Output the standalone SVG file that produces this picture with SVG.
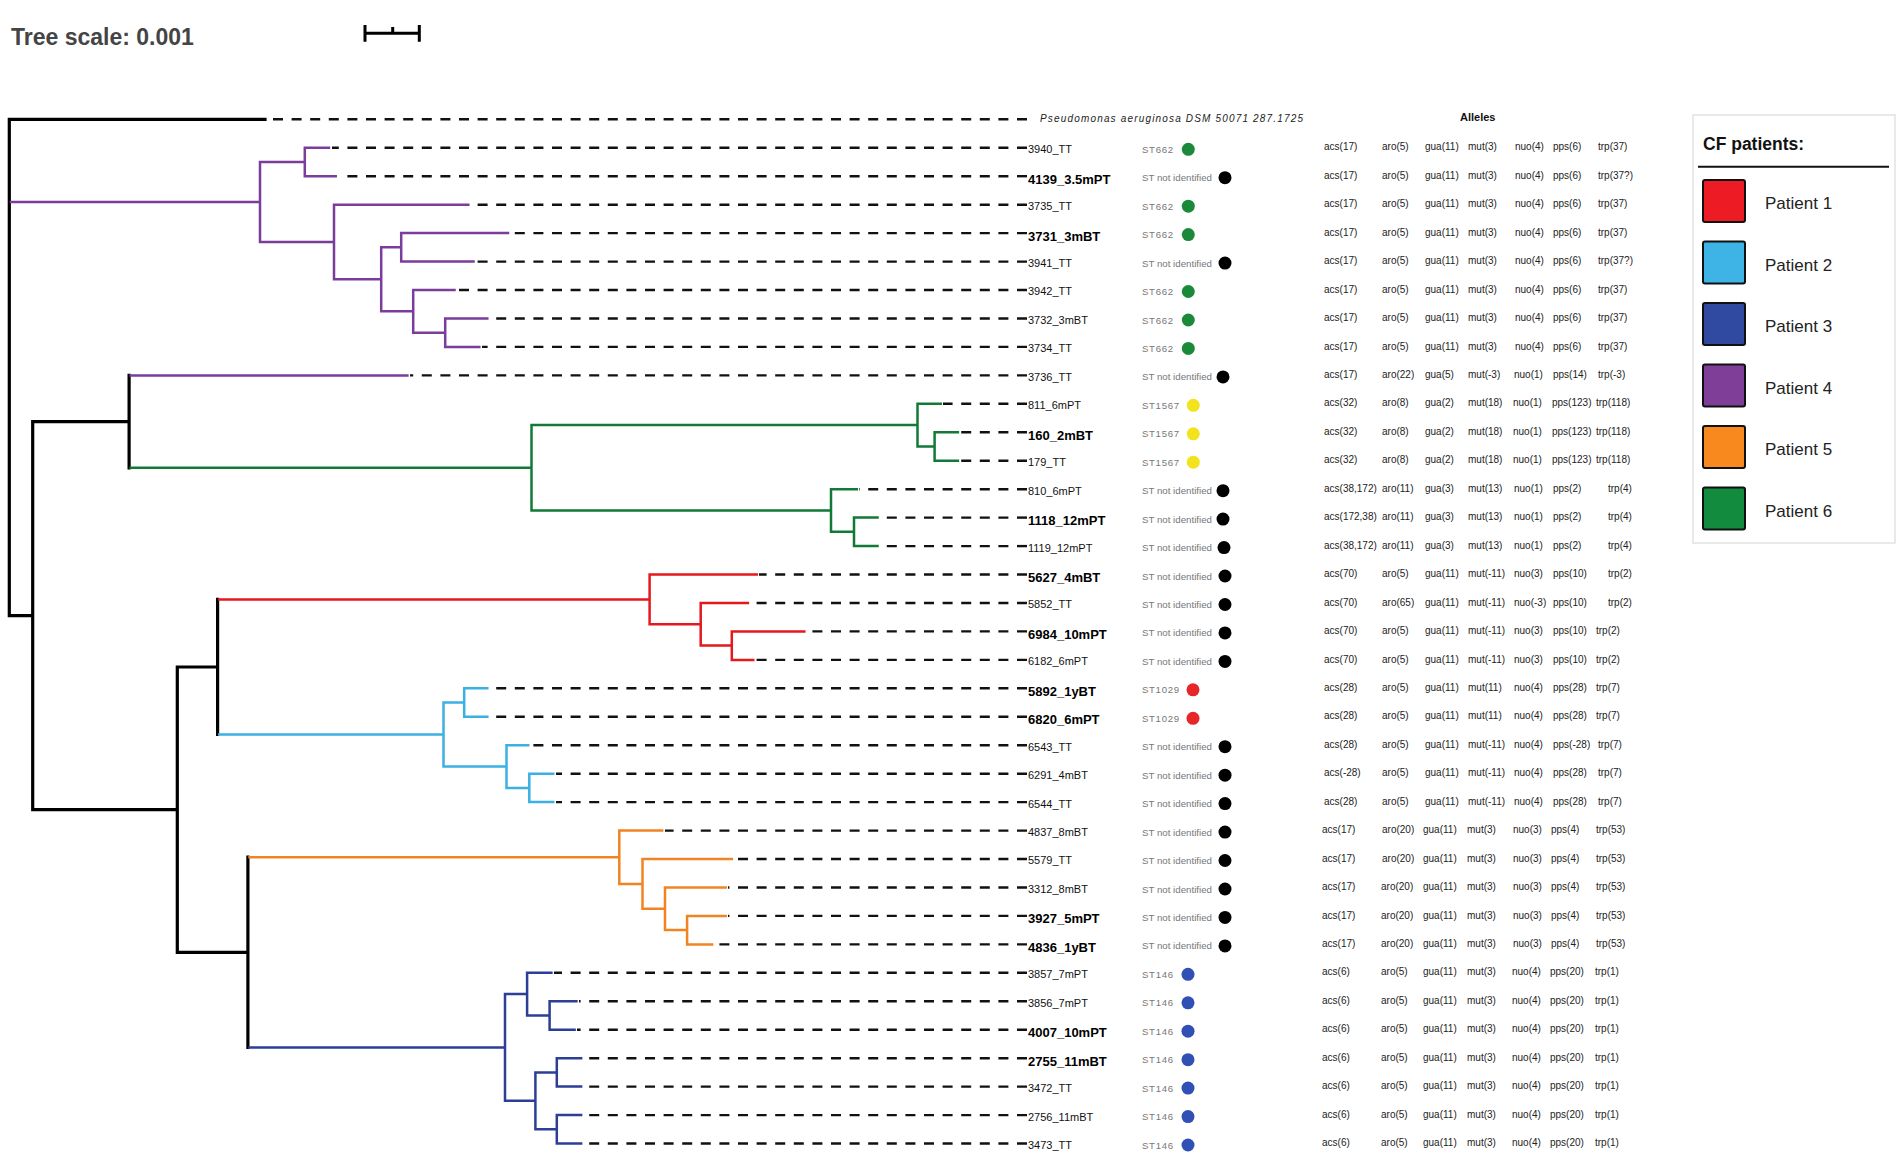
<svg xmlns="http://www.w3.org/2000/svg" width="1900" height="1174" viewBox="0 0 1900 1174">
<style>
.br{fill:none;stroke-width:2.5;stroke-linecap:square}
.k{stroke:#000;stroke-width:3.2}
.p4{stroke:#7a3d9c}
.g6{stroke:#127a37}
.r1{stroke:#e3191e}
.b2{stroke:#3bb0e3}
.b3{stroke:#2c3e96}
.o5{stroke:#f28322}
.dash{fill:none;stroke:#111;stroke-width:2.4;stroke-dasharray:10 8.6}
text{font-family:"Liberation Sans",Arial,sans-serif}
.lab{font-size:11px;fill:#111}
.labb{font-size:13px;font-weight:bold;fill:#000}
.st{font-size:9.6px;fill:#777}
.al{font-size:10px;fill:#222}
.dg{fill:#1a8a3a}.dk{fill:#000}.dy{fill:#f3e31c}.dr{fill:#e8252a}.db{fill:#3050b5}
.sw{stroke:#111;stroke-width:2}
.leg{font-size:17px;fill:#222}
</style>
<defs>
<text id="stn" class="st" x="1142" y="5" textLength="70" lengthAdjust="spacingAndGlyphs">ST not identified</text>
<text id="st662" class="st" x="1142" y="5" textLength="31" lengthAdjust="spacing">ST662</text>
<text id="st1567" class="st" x="1142" y="5" textLength="37" lengthAdjust="spacing">ST1567</text>
<text id="st1029" class="st" x="1142" y="5" textLength="37" lengthAdjust="spacing">ST1029</text>
<text id="st146" class="st" x="1142" y="5" textLength="31" lengthAdjust="spacing">ST146</text>
</defs>
<rect x="0" y="0" width="1900" height="1174" fill="#fff"/>

<g id="title">
<text x="11" y="45" font-size="23" font-weight="bold" fill="#444">Tree scale: 0.001</text>
<path d="M365,33.3 H419.3 M365,25 V41.7 M419.3,25 V41.7 M392.7,27 V33" fill="none" stroke="#000" stroke-width="3"/>
</g>

<g id="connectors">
<g id="dashes">
<path class="dash" d="M1027,119.3 H268"/>
<path class="dash" d="M1027,147.8 H332"/>
<path class="dash" d="M1027,176.2 H339"/>
<path class="dash" d="M1027,204.7 H471"/>
<path class="dash" d="M1027,233.1 H511"/>
<path class="dash" d="M1027,261.6 H476"/>
<path class="dash" d="M1027,290 H457"/>
<path class="dash" d="M1027,318.5 H490"/>
<path class="dash" d="M1027,346.9 H482"/>
<path class="dash" d="M1027,375.4 H410"/>
<path class="dash" d="M1027,403.8 H943"/>
<path class="dash" d="M1027,432.3 H960"/>
<path class="dash" d="M1027,460.7 H960"/>
<path class="dash" d="M1027,489.2 H859"/>
<path class="dash" d="M1027,517.6 H880"/>
<path class="dash" d="M1027,546.1 H880"/>
<path class="dash" d="M1027,574.5 H759"/>
<path class="dash" d="M1027,603 H750"/>
<path class="dash" d="M1027,631.4 H807"/>
<path class="dash" d="M1027,659.9 H756"/>
<path class="dash" d="M1027,688.3 H490"/>
<path class="dash" d="M1027,716.8 H490"/>
<path class="dash" d="M1027,745.2 H531"/>
<path class="dash" d="M1027,773.7 H556"/>
<path class="dash" d="M1027,802.1 H556"/>
<path class="dash" d="M1027,830.6 H665"/>
<path class="dash" d="M1027,859 H734"/>
<path class="dash" d="M1027,887.5 H728"/>
<path class="dash" d="M1027,915.9 H728"/>
<path class="dash" d="M1027,944.4 H715"/>
<path class="dash" d="M1027,972.8 H554"/>
<path class="dash" d="M1027,1001.3 H579"/>
<path class="dash" d="M1027,1029.7 H577"/>
<path class="dash" d="M1027,1058.2 H584"/>
<path class="dash" d="M1027,1086.6 H584"/>
<path class="dash" d="M1027,1115.1 H584"/>
<path class="dash" d="M1027,1143.5 H584"/>
</g>
<g id="branches-black">
<path class="br k" d="M9.3,119.3 V615.6 M9.3,119.3 H265 M9.3,615.6 H32.7 M32.7,421.6 V809.7 M32.7,421.6 H129.1 M129.1,375.4 V467.8 M32.7,809.7 H177.3 M177.3,667 V952.4 M177.3,667 H217.6 M217.6,599.4 V734.5 M177.3,952.4 H247.9 M247.9,857.2 V1047.5"/>
</g>
<g id="branches-patient4">
<path class="br p4" d="M10.9,202 H260 M260,162 V242 M260,162 H304.8 M304.8,147.8 V176.2 M304.8,147.8 H328.9 M304.8,176.2 H335.7 M260,242 H334 M334,204.7 V279.3 M334,204.7 H468.3 M334,279.3 H381.2 M381.2,247.3 V311.3 M381.2,247.3 H401.2 M401.2,233.1 V261.6 M401.2,233.1 H508 M401.2,261.6 H473.5 M381.2,311.3 H413.2 M413.2,290 V332.7 M413.2,290 H454.5 M413.2,332.7 H445.2 M445.2,318.5 V346.9 M445.2,318.5 H487.3 M445.2,346.9 H479.3 M130.7,375.4 H407.4"/>
</g>
<g id="branches-patient6">
<path class="br g6" d="M130.7,467.8 H531.5 M531.5,425.1 V510.5 M531.5,425.1 H917.5 M917.5,403.8 V446.5 M917.5,403.8 H940.7 M917.5,446.5 H934.6 M934.6,432.3 V460.7 M934.6,432.3 H957.9 M934.6,460.7 H957.9 M531.5,510.5 H831 M831,489.2 V531.8 M831,489.2 H856.8 M831,531.8 H854 M854,517.6 V546.1 M854,517.6 H877.5 M854,546.1 H877.5"/>
</g>
<g id="branches-patient1">
<path class="br r1" d="M219.2,599.4 H649.6 M649.6,574.5 V624.3 M649.6,574.5 H756.8 M649.6,624.3 H700.7 M700.7,603 V645.6 M700.7,603 H747.9 M700.7,645.6 H731.8 M731.8,631.4 V659.9 M731.8,631.4 H804.3 M731.8,659.9 H753.2"/>
</g>
<g id="branches-patient2">
<path class="br b2" d="M219.2,734.5 H443.5 M443.5,702.5 V766.5 M443.5,702.5 H464.2 M464.2,688.3 V716.8 M464.2,688.3 H487.3 M464.2,716.8 H487.3 M443.5,766.5 H506.5 M506.5,745.2 V787.9 M506.5,745.2 H528.2 M506.5,787.9 H529.3 M529.3,773.7 V802.1 M529.3,773.7 H553.2 M529.3,802.1 H553.2"/>
</g>
<g id="branches-patient5">
<path class="br o5" d="M249.5,857.2 H619.3 M619.3,830.6 V883.9 M619.3,830.6 H662.1 M619.3,883.9 H642.5 M642.5,859 V908.8 M642.5,859 H731.8 M642.5,908.8 H665 M665,887.5 V930.1 M665,887.5 H725.7 M665,930.1 H687.1 M687.1,915.9 V944.4 M687.1,915.9 H725.7 M687.1,944.4 H712.1"/>
</g>
<g id="branches-patient3">
<path class="br b3" d="M249.5,1047.5 H505 M505,994.1 V1100.8 M505,994.1 H527.1 M527.1,972.8 V1015.5 M527.1,972.8 H551.4 M527.1,1015.5 H549.6 M549.6,1001.3 V1029.7 M549.6,1001.3 H576.4 M549.6,1029.7 H574.6 M505,1100.8 H535.4 M535.4,1072.4 V1129.3 M535.4,1072.4 H556.8 M556.8,1058.2 V1086.6 M556.8,1058.2 H581.1 M556.8,1086.6 H581.1 M535.4,1129.3 H556.8 M556.8,1115.1 V1143.5 M556.8,1115.1 H581.1 M556.8,1143.5 H581.1"/>
</g>
</g>

<g id="header-alleles"><text x="1460" y="121" font-size="11" font-weight="bold" fill="#111">Alleles</text></g>

<g id="leaf-outgroup"><text x="1040" y="122" font-size="10" font-style="italic" fill="#222" textLength="263" lengthAdjust="spacing">Pseudomonas aeruginosa DSM 50071 287.1725</text></g>

<g id="leaf-3940_TT" transform="translate(0,147.8)"><text class="lab" x="1028" y="5.4">3940_TT</text><use href="#st662"/><circle class="dg" cx="1188.3" cy="1.5" r="6.5"/><text class="al" y="2.6"><tspan x="1324">acs(17)</tspan><tspan x="1382">aro(5)</tspan><tspan x="1425">gua(11)</tspan><tspan x="1468">mut(3)</tspan><tspan x="1515">nuo(4)</tspan><tspan x="1553">pps(6)</tspan><tspan x="1598">trp(37)</tspan></text></g>
<g id="leaf-4139_3.5mPT" transform="translate(0,176.2)"><text class="labb" x="1028" y="7.4">4139_3.5mPT</text><use href="#stn"/><circle class="dk" cx="1225" cy="1.5" r="6.5"/><text class="al" y="2.6"><tspan x="1324">acs(17)</tspan><tspan x="1382">aro(5)</tspan><tspan x="1425">gua(11)</tspan><tspan x="1468">mut(3)</tspan><tspan x="1515">nuo(4)</tspan><tspan x="1553">pps(6)</tspan><tspan x="1598">trp(37?)</tspan></text></g>
<g id="leaf-3735_TT" transform="translate(0,204.7)"><text class="lab" x="1028" y="5.4">3735_TT</text><use href="#st662"/><circle class="dg" cx="1188.3" cy="1.5" r="6.5"/><text class="al" y="2.6"><tspan x="1324">acs(17)</tspan><tspan x="1382">aro(5)</tspan><tspan x="1425">gua(11)</tspan><tspan x="1468">mut(3)</tspan><tspan x="1515">nuo(4)</tspan><tspan x="1553">pps(6)</tspan><tspan x="1598">trp(37)</tspan></text></g>
<g id="leaf-3731_3mBT" transform="translate(0,233.1)"><text class="labb" x="1028" y="7.4">3731_3mBT</text><use href="#st662"/><circle class="dg" cx="1188.3" cy="1.5" r="6.5"/><text class="al" y="2.6"><tspan x="1324">acs(17)</tspan><tspan x="1382">aro(5)</tspan><tspan x="1425">gua(11)</tspan><tspan x="1468">mut(3)</tspan><tspan x="1515">nuo(4)</tspan><tspan x="1553">pps(6)</tspan><tspan x="1598">trp(37)</tspan></text></g>
<g id="leaf-3941_TT" transform="translate(0,261.6)"><text class="lab" x="1028" y="5.4">3941_TT</text><use href="#stn"/><circle class="dk" cx="1225" cy="1.5" r="6.5"/><text class="al" y="2.6"><tspan x="1324">acs(17)</tspan><tspan x="1382">aro(5)</tspan><tspan x="1425">gua(11)</tspan><tspan x="1468">mut(3)</tspan><tspan x="1515">nuo(4)</tspan><tspan x="1553">pps(6)</tspan><tspan x="1598">trp(37?)</tspan></text></g>
<g id="leaf-3942_TT" transform="translate(0,290)"><text class="lab" x="1028" y="5.4">3942_TT</text><use href="#st662"/><circle class="dg" cx="1188.3" cy="1.5" r="6.5"/><text class="al" y="2.6"><tspan x="1324">acs(17)</tspan><tspan x="1382">aro(5)</tspan><tspan x="1425">gua(11)</tspan><tspan x="1468">mut(3)</tspan><tspan x="1515">nuo(4)</tspan><tspan x="1553">pps(6)</tspan><tspan x="1598">trp(37)</tspan></text></g>
<g id="leaf-3732_3mBT" transform="translate(0,318.5)"><text class="lab" x="1028" y="5.4">3732_3mBT</text><use href="#st662"/><circle class="dg" cx="1188.3" cy="1.5" r="6.5"/><text class="al" y="2.6"><tspan x="1324">acs(17)</tspan><tspan x="1382">aro(5)</tspan><tspan x="1425">gua(11)</tspan><tspan x="1468">mut(3)</tspan><tspan x="1515">nuo(4)</tspan><tspan x="1553">pps(6)</tspan><tspan x="1598">trp(37)</tspan></text></g>
<g id="leaf-3734_TT" transform="translate(0,346.9)"><text class="lab" x="1028" y="5.4">3734_TT</text><use href="#st662"/><circle class="dg" cx="1188.3" cy="1.5" r="6.5"/><text class="al" y="2.6"><tspan x="1324">acs(17)</tspan><tspan x="1382">aro(5)</tspan><tspan x="1425">gua(11)</tspan><tspan x="1468">mut(3)</tspan><tspan x="1515">nuo(4)</tspan><tspan x="1553">pps(6)</tspan><tspan x="1598">trp(37)</tspan></text></g>
<g id="leaf-3736_TT" transform="translate(0,375.4)"><text class="lab" x="1028" y="5.4">3736_TT</text><use href="#stn"/><circle class="dk" cx="1223" cy="1.5" r="6.5"/><text class="al" y="2.6"><tspan x="1324">acs(17)</tspan><tspan x="1382">aro(22)</tspan><tspan x="1425">gua(5)</tspan><tspan x="1468">mut(-3)</tspan><tspan x="1514">nuo(1)</tspan><tspan x="1553">pps(14)</tspan><tspan x="1598">trp(-3)</tspan></text></g>
<g id="leaf-811_6mPT" transform="translate(0,403.8)"><text class="lab" x="1028" y="5.4">811_6mPT</text><use href="#st1567"/><circle class="dy" cx="1193.3" cy="1.5" r="6.5"/><text class="al" y="2.6"><tspan x="1324">acs(32)</tspan><tspan x="1382">aro(8)</tspan><tspan x="1425">gua(2)</tspan><tspan x="1468">mut(18)</tspan><tspan x="1513">nuo(1)</tspan><tspan x="1552">pps(123)</tspan><tspan x="1596">trp(118)</tspan></text></g>
<g id="leaf-160_2mBT" transform="translate(0,432.3)"><text class="labb" x="1028" y="7.4">160_2mBT</text><use href="#st1567"/><circle class="dy" cx="1193.3" cy="1.5" r="6.5"/><text class="al" y="2.6"><tspan x="1324">acs(32)</tspan><tspan x="1382">aro(8)</tspan><tspan x="1425">gua(2)</tspan><tspan x="1468">mut(18)</tspan><tspan x="1513">nuo(1)</tspan><tspan x="1552">pps(123)</tspan><tspan x="1596">trp(118)</tspan></text></g>
<g id="leaf-179_TT" transform="translate(0,460.7)"><text class="lab" x="1028" y="5.4">179_TT</text><use href="#st1567"/><circle class="dy" cx="1193.3" cy="1.5" r="6.5"/><text class="al" y="2.6"><tspan x="1324">acs(32)</tspan><tspan x="1382">aro(8)</tspan><tspan x="1425">gua(2)</tspan><tspan x="1468">mut(18)</tspan><tspan x="1513">nuo(1)</tspan><tspan x="1552">pps(123)</tspan><tspan x="1596">trp(118)</tspan></text></g>
<g id="leaf-810_6mPT" transform="translate(0,489.2)"><text class="lab" x="1028" y="5.4">810_6mPT</text><use href="#stn"/><circle class="dk" cx="1223" cy="1.5" r="6.5"/><text class="al" y="2.6"><tspan x="1324">acs(38,172)</tspan><tspan x="1382">aro(11)</tspan><tspan x="1425">gua(3)</tspan><tspan x="1468">mut(13)</tspan><tspan x="1514">nuo(1)</tspan><tspan x="1553">pps(2)</tspan><tspan x="1608">trp(4)</tspan></text></g>
<g id="leaf-1118_12mPT" transform="translate(0,517.6)"><text class="labb" x="1028" y="7.4">1118_12mPT</text><use href="#stn"/><circle class="dk" cx="1223" cy="1.5" r="6.5"/><text class="al" y="2.6"><tspan x="1324">acs(172,38)</tspan><tspan x="1382">aro(11)</tspan><tspan x="1425">gua(3)</tspan><tspan x="1468">mut(13)</tspan><tspan x="1514">nuo(1)</tspan><tspan x="1553">pps(2)</tspan><tspan x="1608">trp(4)</tspan></text></g>
<g id="leaf-1119_12mPT" transform="translate(0,546.1)"><text class="lab" x="1028" y="5.4">1119_12mPT</text><use href="#stn"/><circle class="dk" cx="1224" cy="1.5" r="6.5"/><text class="al" y="2.6"><tspan x="1324">acs(38,172)</tspan><tspan x="1382">aro(11)</tspan><tspan x="1425">gua(3)</tspan><tspan x="1468">mut(13)</tspan><tspan x="1514">nuo(1)</tspan><tspan x="1553">pps(2)</tspan><tspan x="1608">trp(4)</tspan></text></g>
<g id="leaf-5627_4mBT" transform="translate(0,574.5)"><text class="labb" x="1028" y="7.4">5627_4mBT</text><use href="#stn"/><circle class="dk" cx="1225" cy="1.5" r="6.5"/><text class="al" y="2.6"><tspan x="1324">acs(70)</tspan><tspan x="1382">aro(5)</tspan><tspan x="1425">gua(11)</tspan><tspan x="1468">mut(-11)</tspan><tspan x="1514">nuo(3)</tspan><tspan x="1553">pps(10)</tspan><tspan x="1608">trp(2)</tspan></text></g>
<g id="leaf-5852_TT" transform="translate(0,603)"><text class="lab" x="1028" y="5.4">5852_TT</text><use href="#stn"/><circle class="dk" cx="1225" cy="1.5" r="6.5"/><text class="al" y="2.6"><tspan x="1324">acs(70)</tspan><tspan x="1382">aro(65)</tspan><tspan x="1425">gua(11)</tspan><tspan x="1468">mut(-11)</tspan><tspan x="1514">nuo(-3)</tspan><tspan x="1553">pps(10)</tspan><tspan x="1608">trp(2)</tspan></text></g>
<g id="leaf-6984_10mPT" transform="translate(0,631.4)"><text class="labb" x="1028" y="7.4">6984_10mPT</text><use href="#stn"/><circle class="dk" cx="1225" cy="1.5" r="6.5"/><text class="al" y="2.6"><tspan x="1324">acs(70)</tspan><tspan x="1382">aro(5)</tspan><tspan x="1425">gua(11)</tspan><tspan x="1468">mut(-11)</tspan><tspan x="1514">nuo(3)</tspan><tspan x="1553">pps(10)</tspan><tspan x="1596">trp(2)</tspan></text></g>
<g id="leaf-6182_6mPT" transform="translate(0,659.9)"><text class="lab" x="1028" y="5.4">6182_6mPT</text><use href="#stn"/><circle class="dk" cx="1225" cy="1.5" r="6.5"/><text class="al" y="2.6"><tspan x="1324">acs(70)</tspan><tspan x="1382">aro(5)</tspan><tspan x="1425">gua(11)</tspan><tspan x="1468">mut(-11)</tspan><tspan x="1514">nuo(3)</tspan><tspan x="1553">pps(10)</tspan><tspan x="1596">trp(2)</tspan></text></g>
<g id="leaf-5892_1yBT" transform="translate(0,688.3)"><text class="labb" x="1028" y="7.4">5892_1yBT</text><use href="#st1029"/><circle class="dr" cx="1193" cy="1.5" r="6.5"/><text class="al" y="2.6"><tspan x="1324">acs(28)</tspan><tspan x="1382">aro(5)</tspan><tspan x="1425">gua(11)</tspan><tspan x="1468">mut(11)</tspan><tspan x="1514">nuo(4)</tspan><tspan x="1553">pps(28)</tspan><tspan x="1596">trp(7)</tspan></text></g>
<g id="leaf-6820_6mPT" transform="translate(0,716.8)"><text class="labb" x="1028" y="7.4">6820_6mPT</text><use href="#st1029"/><circle class="dr" cx="1193" cy="1.5" r="6.5"/><text class="al" y="2.6"><tspan x="1324">acs(28)</tspan><tspan x="1382">aro(5)</tspan><tspan x="1425">gua(11)</tspan><tspan x="1468">mut(11)</tspan><tspan x="1514">nuo(4)</tspan><tspan x="1553">pps(28)</tspan><tspan x="1596">trp(7)</tspan></text></g>
<g id="leaf-6543_TT" transform="translate(0,745.2)"><text class="lab" x="1028" y="5.4">6543_TT</text><use href="#stn"/><circle class="dk" cx="1225" cy="1.5" r="6.5"/><text class="al" y="2.6"><tspan x="1324">acs(28)</tspan><tspan x="1382">aro(5)</tspan><tspan x="1425">gua(11)</tspan><tspan x="1468">mut(-11)</tspan><tspan x="1514">nuo(4)</tspan><tspan x="1553">pps(-28)</tspan><tspan x="1598">trp(7)</tspan></text></g>
<g id="leaf-6291_4mBT" transform="translate(0,773.7)"><text class="lab" x="1028" y="5.4">6291_4mBT</text><use href="#stn"/><circle class="dk" cx="1225" cy="1.5" r="6.5"/><text class="al" y="2.6"><tspan x="1324">acs(-28)</tspan><tspan x="1382">aro(5)</tspan><tspan x="1425">gua(11)</tspan><tspan x="1468">mut(-11)</tspan><tspan x="1514">nuo(4)</tspan><tspan x="1553">pps(28)</tspan><tspan x="1598">trp(7)</tspan></text></g>
<g id="leaf-6544_TT" transform="translate(0,802.1)"><text class="lab" x="1028" y="5.4">6544_TT</text><use href="#stn"/><circle class="dk" cx="1225" cy="1.5" r="6.5"/><text class="al" y="2.6"><tspan x="1324">acs(28)</tspan><tspan x="1382">aro(5)</tspan><tspan x="1425">gua(11)</tspan><tspan x="1468">mut(-11)</tspan><tspan x="1514">nuo(4)</tspan><tspan x="1553">pps(28)</tspan><tspan x="1598">trp(7)</tspan></text></g>
<g id="leaf-4837_8mBT" transform="translate(0,830.6)"><text class="lab" x="1028" y="5.4">4837_8mBT</text><use href="#stn"/><circle class="dk" cx="1225" cy="1.5" r="6.5"/><text class="al" y="2.6"><tspan x="1322">acs(17)</tspan><tspan x="1382">aro(20)</tspan><tspan x="1423">gua(11)</tspan><tspan x="1467">mut(3)</tspan><tspan x="1513">nuo(3)</tspan><tspan x="1551">pps(4)</tspan><tspan x="1596">trp(53)</tspan></text></g>
<g id="leaf-5579_TT" transform="translate(0,859)"><text class="lab" x="1028" y="5.4">5579_TT</text><use href="#stn"/><circle class="dk" cx="1225" cy="1.5" r="6.5"/><text class="al" y="2.6"><tspan x="1322">acs(17)</tspan><tspan x="1382">aro(20)</tspan><tspan x="1423">gua(11)</tspan><tspan x="1467">mut(3)</tspan><tspan x="1513">nuo(3)</tspan><tspan x="1551">pps(4)</tspan><tspan x="1596">trp(53)</tspan></text></g>
<g id="leaf-3312_8mBT" transform="translate(0,887.5)"><text class="lab" x="1028" y="5.4">3312_8mBT</text><use href="#stn"/><circle class="dk" cx="1225" cy="1.5" r="6.5"/><text class="al" y="2.6"><tspan x="1322">acs(17)</tspan><tspan x="1381">aro(20)</tspan><tspan x="1423">gua(11)</tspan><tspan x="1467">mut(3)</tspan><tspan x="1513">nuo(3)</tspan><tspan x="1551">pps(4)</tspan><tspan x="1596">trp(53)</tspan></text></g>
<g id="leaf-3927_5mPT" transform="translate(0,915.9)"><text class="labb" x="1028" y="7.4">3927_5mPT</text><use href="#stn"/><circle class="dk" cx="1225" cy="1.5" r="6.5"/><text class="al" y="2.6"><tspan x="1322">acs(17)</tspan><tspan x="1381">aro(20)</tspan><tspan x="1423">gua(11)</tspan><tspan x="1467">mut(3)</tspan><tspan x="1513">nuo(3)</tspan><tspan x="1551">pps(4)</tspan><tspan x="1596">trp(53)</tspan></text></g>
<g id="leaf-4836_1yBT" transform="translate(0,944.4)"><text class="labb" x="1028" y="7.4">4836_1yBT</text><use href="#stn"/><circle class="dk" cx="1225" cy="1.5" r="6.5"/><text class="al" y="2.6"><tspan x="1322">acs(17)</tspan><tspan x="1381">aro(20)</tspan><tspan x="1423">gua(11)</tspan><tspan x="1467">mut(3)</tspan><tspan x="1513">nuo(3)</tspan><tspan x="1551">pps(4)</tspan><tspan x="1596">trp(53)</tspan></text></g>
<g id="leaf-3857_7mPT" transform="translate(0,972.8)"><text class="lab" x="1028" y="5.4">3857_7mPT</text><use href="#st146"/><circle class="db" cx="1188" cy="1.5" r="6.5"/><text class="al" y="2.6"><tspan x="1322">acs(6)</tspan><tspan x="1381">aro(5)</tspan><tspan x="1423">gua(11)</tspan><tspan x="1467">mut(3)</tspan><tspan x="1512">nuo(4)</tspan><tspan x="1550">pps(20)</tspan><tspan x="1595">trp(1)</tspan></text></g>
<g id="leaf-3856_7mPT" transform="translate(0,1001.3)"><text class="lab" x="1028" y="5.4">3856_7mPT</text><use href="#st146"/><circle class="db" cx="1188" cy="1.5" r="6.5"/><text class="al" y="2.6"><tspan x="1322">acs(6)</tspan><tspan x="1381">aro(5)</tspan><tspan x="1423">gua(11)</tspan><tspan x="1467">mut(3)</tspan><tspan x="1512">nuo(4)</tspan><tspan x="1550">pps(20)</tspan><tspan x="1595">trp(1)</tspan></text></g>
<g id="leaf-4007_10mPT" transform="translate(0,1029.7)"><text class="labb" x="1028" y="7.4">4007_10mPT</text><use href="#st146"/><circle class="db" cx="1188" cy="1.5" r="6.5"/><text class="al" y="2.6"><tspan x="1322">acs(6)</tspan><tspan x="1381">aro(5)</tspan><tspan x="1423">gua(11)</tspan><tspan x="1467">mut(3)</tspan><tspan x="1512">nuo(4)</tspan><tspan x="1550">pps(20)</tspan><tspan x="1595">trp(1)</tspan></text></g>
<g id="leaf-2755_11mBT" transform="translate(0,1058.2)"><text class="labb" x="1028" y="7.4">2755_11mBT</text><use href="#st146"/><circle class="db" cx="1188" cy="1.5" r="6.5"/><text class="al" y="2.6"><tspan x="1322">acs(6)</tspan><tspan x="1381">aro(5)</tspan><tspan x="1423">gua(11)</tspan><tspan x="1467">mut(3)</tspan><tspan x="1512">nuo(4)</tspan><tspan x="1550">pps(20)</tspan><tspan x="1595">trp(1)</tspan></text></g>
<g id="leaf-3472_TT" transform="translate(0,1086.6)"><text class="lab" x="1028" y="5.4">3472_TT</text><use href="#st146"/><circle class="db" cx="1188" cy="1.5" r="6.5"/><text class="al" y="2.6"><tspan x="1322">acs(6)</tspan><tspan x="1381">aro(5)</tspan><tspan x="1423">gua(11)</tspan><tspan x="1467">mut(3)</tspan><tspan x="1512">nuo(4)</tspan><tspan x="1550">pps(20)</tspan><tspan x="1595">trp(1)</tspan></text></g>
<g id="leaf-2756_11mBT" transform="translate(0,1115.1)"><text class="lab" x="1028" y="5.4">2756_11mBT</text><use href="#st146"/><circle class="db" cx="1188" cy="1.5" r="6.5"/><text class="al" y="2.6"><tspan x="1322">acs(6)</tspan><tspan x="1381">aro(5)</tspan><tspan x="1423">gua(11)</tspan><tspan x="1467">mut(3)</tspan><tspan x="1512">nuo(4)</tspan><tspan x="1550">pps(20)</tspan><tspan x="1595">trp(1)</tspan></text></g>
<g id="leaf-3473_TT" transform="translate(0,1143.5)"><text class="lab" x="1028" y="5.4">3473_TT</text><use href="#st146"/><circle class="db" cx="1188" cy="1.5" r="6.5"/><text class="al" y="2.6"><tspan x="1322">acs(6)</tspan><tspan x="1381">aro(5)</tspan><tspan x="1423">gua(11)</tspan><tspan x="1467">mut(3)</tspan><tspan x="1512">nuo(4)</tspan><tspan x="1550">pps(20)</tspan><tspan x="1595">trp(1)</tspan></text></g>

<g id="legend">
<rect x="1693" y="115" width="202" height="428" fill="#fff" stroke="#e2e2e2" stroke-width="1.5"/>
<text x="1703" y="150" font-size="17.5" font-weight="bold" fill="#111">CF patients:</text>
<path d="M1698,166.7 H1889" stroke="#111" stroke-width="2"/>
<rect class="sw" x="1703" y="180" width="42" height="42" rx="2" fill="#ed1c24"/>
<text class="leg" x="1765" y="209">Patient 1</text>
<rect class="sw" x="1703" y="241.5" width="42" height="42" rx="2" fill="#3eb3e6"/>
<text class="leg" x="1765" y="270.5">Patient 2</text>
<rect class="sw" x="1703" y="303" width="42" height="42" rx="2" fill="#2f4aa0"/>
<text class="leg" x="1765" y="332">Patient 3</text>
<rect class="sw" x="1703" y="364.5" width="42" height="42" rx="2" fill="#7f3f98"/>
<text class="leg" x="1765" y="393.5">Patient 4</text>
<rect class="sw" x="1703" y="426" width="42" height="42" rx="2" fill="#f7891f"/>
<text class="leg" x="1765" y="455">Patient 5</text>
<rect class="sw" x="1703" y="487.5" width="42" height="42" rx="2" fill="#138b3f"/>
<text class="leg" x="1765" y="516.5">Patient 6</text>
</g>
</svg>
